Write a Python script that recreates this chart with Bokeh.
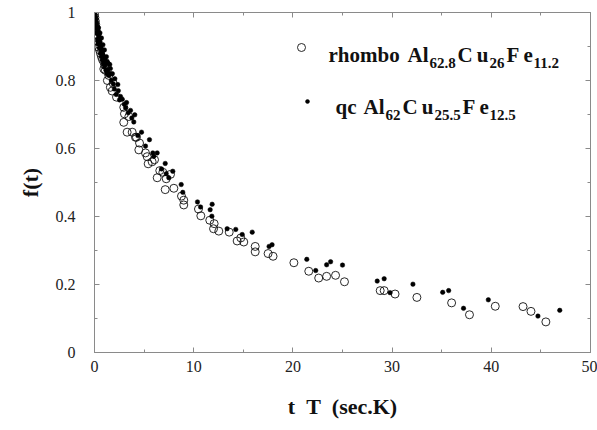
from bokeh.plotting import figure
from bokeh.models import Label, Legend, LegendItem, LinearAxis, FixedTicker, Range1d
from bokeh.embed import file_html
from bokeh.resources import INLINE

# rhombo Al62.8Cu26Fe11.2 (open circles)
rhombo_x = [0.0, 0.04, 0.08, 0.12, 0.16, 0.2, 0.25, 0.3, 0.35, 0.43, 0.5, 0.6, 0.7, 0.8, 0.94, 1.05, 0.94,
            1.1, 1.3, 1.6,
            1.44, 1.88, 1.78, 2.22, 2.95, 3.02, 3.46, 2.95, 3.29, 3.80, 4.13,
            4.23, 4.54, 4.47, 5.14, 5.31, 5.41, 5.81, 6.05, 6.58, 6.89, 7.66, 6.32, 7.23, 7.13, 8.0,
            8.77, 9.0, 9.0, 10.48, 10.72, 11.62, 12.06, 12.0, 12.53, 13.58, 14.38, 14.75, 15.05, 16.2, 16.2,
            17.5, 18.0, 20.1, 21.6, 22.6, 23.4, 24.3, 25.2,
            28.8, 29.2, 30.3, 32.5, 36.0, 37.8, 40.4, 43.2, 44.0, 45.5]
rhombo_y = [0.995, 0.985, 0.975, 0.965, 0.955, 0.945, 0.935, 0.925, 0.915, 0.898, 0.89, 0.88, 0.87, 0.862, 0.854, 0.845, 0.834,
            0.83, 0.80, 0.78,
            0.815, 0.792, 0.769, 0.751, 0.721, 0.702, 0.694, 0.677, 0.648, 0.648, 0.633,
            0.633, 0.616, 0.596, 0.587, 0.576, 0.555, 0.561, 0.567, 0.535, 0.530, 0.524, 0.514, 0.511, 0.479, 0.483,
            0.460, 0.448, 0.434, 0.422, 0.402, 0.389, 0.379, 0.364, 0.357, 0.354, 0.328, 0.337, 0.325, 0.312, 0.296,
            0.291, 0.283, 0.264, 0.239, 0.219, 0.224, 0.227, 0.208,
            0.182, 0.182, 0.172, 0.162, 0.146, 0.111, 0.136, 0.135, 0.121, 0.090]

# qc Al62Cu25.5Fe12.5 (filled dots)
qc_x = [0.0, 0.03, 0.06, 0.09, 0.12, 0.15, 0.18, 0.22, 0.26, 0.3, 0.34, 0.38, 0.42, 0.46, 0.5, 0.55, 0.6, 0.65,
        0.7, 0.76, 0.82, 0.88, 0.95, 1.02, 1.1, 1.18,
        0.05, 0.1, 0.15, 0.2, 0.3, 0.35, 0.4, 0.45, 0.5, 0.6, 0.7, 0.8, 0.9, 1.0, 1.15, 1.25,
        0.4, 0.55, 0.7, 0.85, 1.0, 1.2, 1.4, 1.6, 1.8,
        1.28, 1.54, 1.61, 2.05, 2.35, 2.19, 2.62, 2.52, 3.23, 3.63, 3.13, 4.06, 3.76, 3.96, 4.74, 4.37,
        1.3, 1.45, 1.7, 1.9, 2.0, 2.4, 2.8, 3.0, 3.4,
        5.54, 5.14, 5.88, 6.32, 5.98, 7.13, 6.75, 7.89, 7.23, 7.49, 8.74, 8.9,
        10.38, 10.69, 11.86, 11.66, 11.83, 13.37, 14.24, 14.89, 15.9,
        17.6, 17.9, 21.4, 22.3, 23.4, 23.8, 25.0,
        28.5, 29.2, 29.8, 32.1, 35.1, 35.7, 37.2, 39.7, 44.7, 46.9]
qc_y = [1.0, 0.995, 0.99, 0.985, 0.98, 0.972, 0.968, 0.96, 0.955, 0.948, 0.94, 0.935, 0.928, 0.922, 0.915, 0.91, 0.903, 0.896,
        0.89, 0.884, 0.877, 0.87, 0.866, 0.86, 0.855, 0.85,
        0.975, 0.96, 0.955, 0.94, 0.92, 0.91, 0.905, 0.9, 0.895, 0.88, 0.87, 0.86, 0.85, 0.84, 0.83, 0.82,
        0.955, 0.94, 0.925, 0.905, 0.89, 0.87, 0.85, 0.835, 0.82,
        0.856, 0.847, 0.820, 0.805, 0.788, 0.759, 0.753, 0.743, 0.735, 0.712, 0.720, 0.699, 0.690, 0.678, 0.648, 0.638,
        0.83, 0.815, 0.80, 0.79, 0.775, 0.77, 0.745, 0.73, 0.705,
        0.626, 0.607, 0.587, 0.587, 0.577, 0.556, 0.540, 0.533, 0.526, 0.514, 0.494, 0.471,
        0.443, 0.428, 0.436, 0.420, 0.401, 0.364, 0.362, 0.347, 0.354,
        0.312, 0.317, 0.274, 0.241, 0.258, 0.267, 0.257,
        0.210, 0.217, 0.176, 0.201, 0.177, 0.182, 0.130, 0.155, 0.107, 0.124]

x_ticks = [0, 10, 20, 30, 40, 50]
x_minor = [5, 15, 25, 35, 45]
y_ticks = [0, 0.2, 0.4, 0.6, 0.8, 1]
y_labels = ["0", "0.2", "0.4", "0.6", "0.8", "1"]
y_minor = [0.1, 0.3, 0.5, 0.7, 0.9]

SERIF = "Liberation Serif"
AX = "#8a8a8a"
NB = "\u00a0"
TH = "\u2009"

p = figure(width=597, height=430, x_range=Range1d(0, 50), y_range=Range1d(0, 1),
           output_backend="svg", toolbar_location=None,
           min_border_left=94, min_border_right=7, min_border_top=12, min_border_bottom=78)
p.xgrid.visible = False
p.ygrid.visible = False
p.outline_line_color = AX
p.background_fill_color = "white"
p.border_fill_color = "white"

xt = FixedTicker(ticks=x_ticks, minor_ticks=x_minor)
yt = FixedTicker(ticks=y_ticks, minor_ticks=y_minor)

def style(ax, labels=True):
    ax.axis_line_color = AX
    ax.major_tick_line_color = AX
    ax.minor_tick_line_color = AX
    ax.major_tick_in = 5
    ax.major_tick_out = 0
    ax.minor_tick_in = 3
    ax.minor_tick_out = 0
    if labels:
        ax.major_label_text_font = SERIF
        ax.major_label_text_font_size = "16px"
        ax.major_label_text_color = "#222"
        ax.axis_label_text_font = SERIF
        ax.axis_label_text_font_style = "bold"
        ax.axis_label_text_font_size = "22px"
        ax.axis_label_text_color = "#111"
    else:
        ax.major_label_text_font_size = "1px"
        ax.major_label_text_color = None
        ax.major_label_standoff = 0

p.xaxis.ticker = xt
p.yaxis.ticker = yt
p.yaxis.major_label_overrides = {t: l for t, l in zip(y_ticks, y_labels)}
p.xaxis.axis_label = f"t{NB}{NB}T{NB}{NB}(sec.K)"
p.yaxis.axis_label = "f(t)"
style(p.xaxis[0])
style(p.yaxis[0])
p.xaxis.major_label_standoff = 8
p.xaxis.axis_label_standoff = 19
p.yaxis.major_label_standoff = 19
p.yaxis.axis_label_standoff = 10

top = LinearAxis(ticker=xt)
right = LinearAxis(ticker=yt)
style(top, labels=False)
style(right, labels=False)
p.add_layout(top, "above")
p.add_layout(right, "right")

r_open = p.scatter(rhombo_x, rhombo_y, marker="circle", size=8, fill_color=None,
                   line_color="#111", line_width=0.9)
r_fill = p.scatter(qc_x, qc_y, marker="circle", size=4.5, fill_color="black",
                   line_color="black", line_width=0.5)

# legend glyphs: location is (x, y) of the box from frame bottom-left, in pixels
for rend, loc, g in ((r_open, (197, 295), 20), (r_fill, (208, 246), 10)):
    lg = Legend(items=[LegendItem(label=" ", renderers=[rend])], location=loc,
                padding=0, margin=0, spacing=0, glyph_width=g, glyph_height=g,
                label_height=g, label_width=1, label_standoff=0,
                label_text_font_size="1px", label_text_color=None,
                border_line_alpha=0, background_fill_alpha=0)
    p.add_layout(lg, "center")

def px2x(px):
    return (px - 94) / 9.92

def py2y(py):
    return (352 - py) / 340

MAIN, SUB = 21, 15
legend_rows = [
    [("rhombo", 328, 54, MAIN), ("Al", 407, 54, MAIN), ("62.8", 429, 62, SUB), (f"C{TH}u", 457, 54, MAIN),
     ("26", 489, 62, SUB), (f"F{TH}e", 506, 54, MAIN), ("11.2", 533, 62, SUB)],
    [("qc", 335, 106, MAIN), ("Al", 363, 106, MAIN), ("62", 385, 114, SUB), (f"C{TH}u", 402, 106, MAIN),
     ("25.5", 434, 114, SUB), (f"F{TH}e", 462, 106, MAIN), ("12.5", 489, 114, SUB)],
]
for row in legend_rows:
    for txt, px, py, fs in row:
        p.add_layout(Label(x=px2x(px), y=py2y(py), text=txt, text_font=SERIF,
                           text_font_style="bold", text_font_size=f"{fs}px",
                           text_color="#111", text_align="left", text_baseline="alphabetic"))

open("out.html", "w").write(file_html(p, INLINE))
